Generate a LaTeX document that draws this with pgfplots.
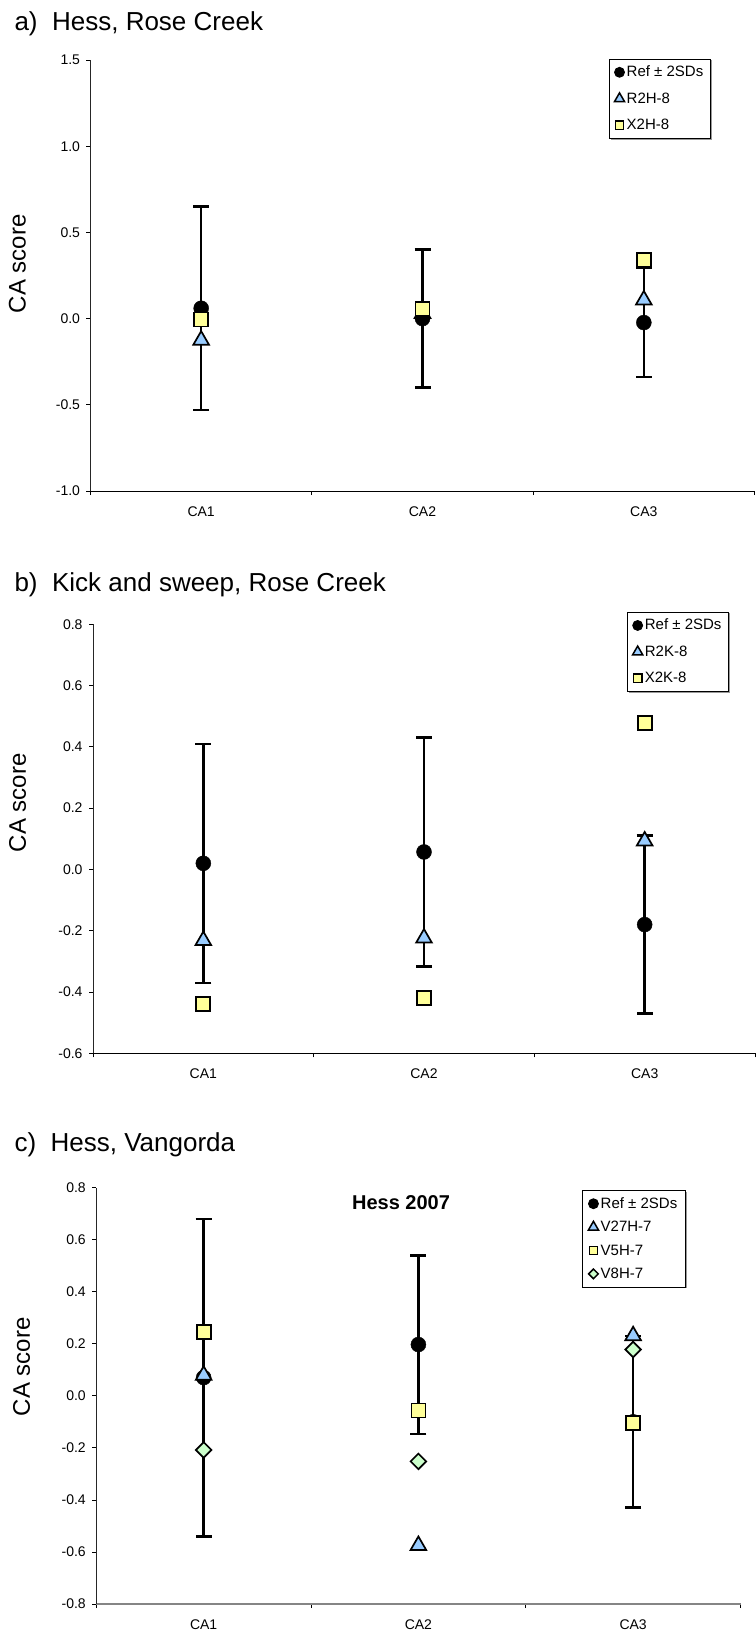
\documentclass[border=0pt]{standalone}
\usepackage{fontspec}
\setmainfont{Liberation Sans}
\usepackage{pgfplots}
\pgfplotsset{compat=1.18}
\usetikzlibrary{shadows}
\definecolor{triblue}{HTML}{99CCFF}
\definecolor{sqyellow}{HTML}{FFFF99}
\definecolor{diagreen}{HTML}{CCFFCC}
\definecolor{axgray}{HTML}{858585}

\pgfplotsset{
  panel/.style={
    scale only axis,
    anchor=north west,
    axis x line*=bottom, axis y line*=left,
    separate axis lines,
    x axis line style={-, line width=1pt, black},
    y axis line style={-, line width=1pt, black!85},
    xmin=0, xmax=3,
    enlargelimits=false,
    xtick={0,1,2,3}, xticklabels={},
    extra x ticks={0.5,1.5,2.5},
    extra x tick labels={CA1,CA2,CA3},
    extra x tick style={major tick length=0pt, xticklabel style={yshift=-12pt}},
    tick align=outside,
    major tick length=4pt,
    tick style={black, line width=0.8pt},
    /pgf/number format/assume math mode=true,
    yticklabel style={/pgf/number format/fixed, /pgf/number format/fixed zerofill, /pgf/number format/precision=1, xshift=-3pt},
    scaled y ticks=false,
    tick label style={font=\fontsize{14}{16}\selectfont},
    clip=false,
    legend cell align=left,
    legend style={font=\fontsize{15}{17}\selectfont, anchor=north west, draw=black, line width=0.8pt,
      inner xsep=5pt, inner ysep=5pt, row sep=10pt,
      nodes={inner sep=2.2pt, text height=10.5pt, text depth=1.5pt},
      drop shadow={shadow xshift=1.2pt, shadow yshift=-1.2pt, fill=gray!80, opacity=1}},
    every axis y label/.style={rotate=90, anchor=center, font=\fontsize{24}{28}\selectfont},
  },
  refstyle/.style={only marks, mark=*, mark size=7.5pt, black, mark options={fill=black, draw=black},
    legend image code/.code={\draw[##1, mark size=5pt] plot coordinates {(0pt,0pt)};},
    error bars/.cd, y dir=both, y explicit,
    error bar style={line width=2.5pt, black},
    error mark options={rotate=90, mark size=8pt, line width=2.5pt, black}},
  tristyle/.style={only marks, mark=triangle*, mark size=9pt, mark options={fill=triblue, draw=black, line width=1.7pt},
    legend image code/.code={\draw[##1, mark size=5.8pt, mark options={fill=triblue, draw=black, line width=1.5pt}] plot coordinates {(0pt,0pt)};}},
  sqstyle/.style={only marks, mark=square*, mark size=7pt, mark options={fill=sqyellow, draw=black, line width=1.7pt},
    legend image code/.code={\draw[##1, mark size=4.2pt, mark options={fill=sqyellow, draw=black, line width=1.5pt}] plot coordinates {(0pt,0pt)};}},
  diastyle/.style={only marks, mark=square*, mark size=5.5pt, mark options={rotate=45, fill=diagreen, draw=black, line width=1.7pt},
    legend image code/.code={\draw[##1, mark size=3.4pt, mark options={rotate=45, fill=diagreen, draw=black, line width=1.5pt}] plot coordinates {(0pt,0pt)};}},
}

\begin{document}
\begin{tikzpicture}
\useasboundingbox (0,0) rectangle (755pt,-1632pt);

% ---------- a) ----------
\node[anchor=base west, font=\fontsize{26}{30}\selectfont] at (11pt,-30.5pt) {a)\ \ Hess, Rose Creek};
\begin{axis}[panel,
  at={(90.5pt,-60pt)}, width=664pt, height=431pt,
  ymin=-1, ymax=1.5, ytick={-1,-0.5,0,0.5,1,1.5},
  ylabel={CA score},
  every axis y label/.append style={at={(axis description cs:-0.110,0.527)}},
  legend style={at={(axis description cs:0.781,1.003)}},
]
\addplot[refstyle] coordinates {(0.5,0.06) +- (0,0.59) (1.5,0.0) +- (0,0.40) (2.5,-0.023) +- (0,0.317)};
\addlegendentry{Ref ± 2SDs}
\addplot[tristyle] coordinates {(0.5,-0.125) (1.5,0.03) (2.5,0.108)};
\addlegendentry{R2H-8}
\addplot[sqstyle] coordinates {(0.5,-0.005) (1.5,0.055) (2.5,0.338)};
\addlegendentry{X2H-8}
\end{axis}

% ---------- b) ----------
\node[anchor=base west, font=\fontsize{26}{30}\selectfont] at (11pt,-591.4pt) {b)\ \ Kick and sweep, Rose Creek};
\begin{axis}[panel,
  at={(93pt,-624.3pt)}, width=662pt, height=429pt,
  ymin=-0.6, ymax=0.8, ytick={-0.6,-0.4,-0.2,0,0.2,0.4,0.6,0.8},
  ylabel={CA score},
  every axis y label/.append style={at={(axis description cs:-0.114,0.584)}},
  legend style={at={(axis description cs:0.807,1.029)}},
]
\addplot[refstyle] coordinates {(0.5,0.02) +- (0,0.39) (1.5,0.057) +- (0,0.373) (2.5,-0.18) +- (0,0.29)};
\addlegendentry{Ref ± 2SDs}
\addplot[tristyle] coordinates {(0.5,-0.232) (1.5,-0.224) (2.5,0.093)};
\addlegendentry{R2K-8}
\addplot[sqstyle] coordinates {(0.5,-0.44) (1.5,-0.42) (2.5,0.478)};
\addlegendentry{X2K-8}
\end{axis}

% ---------- c) ----------
\node[anchor=base west, font=\fontsize{26}{30}\selectfont] at (11pt,-1151.7pt) {c)\ \ Hess, Vangorda};
\begin{axis}[panel,
  at={(96.3pt,-1187.6pt)}, width=644.2pt, height=416.4pt,
  ymin=-0.8, ymax=0.8, ytick={-0.8,-0.6,-0.4,-0.2,0,0.2,0.4,0.6,0.8},
  x axis line style={-, line width=2pt, axgray},
  ylabel={CA score},
  every axis y label/.append style={at={(axis description cs:-0.116,0.570)}},
  legend style={at={(axis description cs:0.754,0.994)}, row sep=7pt, inner xsep=6pt},
]
\addplot[refstyle] coordinates {(0.5,0.07) +- (0,0.61) (1.5,0.197) +- (0,0.343) (2.5,-0.10) +- (0,0.33)};
\addlegendentry{Ref ± 2SDs}
\addplot[tristyle] coordinates {(0.5,0.079) (1.5,-0.575) (2.5,0.231)};
\addlegendentry{V27H-7}
\addplot[sqstyle] coordinates {(0.5,0.246) (1.5,-0.056) (2.5,-0.105)};
\addlegendentry{V5H-7}
\addplot[diastyle] coordinates {(0.5,-0.208) (1.5,-0.252) (2.5,0.178)};
\addlegendentry{V8H-7}
\node[font=\bfseries\fontsize{20}{24}\selectfont] at (axis description cs:0.473,0.963) {Hess 2007};
\end{axis}
\end{tikzpicture}
\end{document}
